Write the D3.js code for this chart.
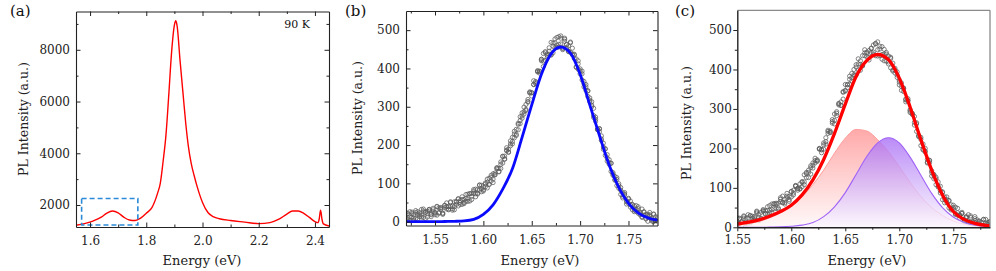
<!DOCTYPE html>
<html>
<head>
<meta charset="utf-8">
<script src="https://cdnjs.cloudflare.com/ajax/libs/d3/7.8.5/d3.min.js"></script>
<style>
body { margin: 0; background: #fff; }
svg, svg text { font-family: "DejaVu Serif", serif; }
.tick text { fill: #222; font-size: 12px; font-family: "DejaVu Serif", serif; }
.tick line, .domain { stroke: #222; }
</style>
</head>
<body>
<svg id="fig" width="996" height="271"></svg>
<script>
// ---- data ----
// (a) full spectrum, 90 K
var energyA = [1.55,1.58,1.61,1.64,1.66,1.68,1.70,1.72,1.74,1.76,1.78,1.80,1.82,1.84,1.85,1.86,1.87,1.88,1.89,1.90,1.905,1.91,1.92,1.93,1.94,1.95,1.96,1.97,1.98,2.00,2.02,2.04,2.06,2.10,2.15,2.20,2.24,2.27,2.30,2.32,2.34,2.36,2.38,2.40,2.41,2.415,2.42,2.425,2.43,2.45];
var plA = [1215,1280,1380,1530,1690,1770,1700,1530,1420,1400,1490,1680,1900,2450,2850,3700,4700,6250,7900,8950,9120,8900,7600,6400,5200,4250,3600,3150,2750,2100,1700,1540,1470,1400,1340,1280,1320,1440,1650,1770,1770,1680,1520,1360,1320,1450,1800,1450,1270,1190];
var boxA = [1.57, 1.77, 1230, 2250]; // dashed zoom window

// (b) measured points (three reads per energy) + single gaussian
var energyB = [1.520,1.522,1.524,1.526,1.528,1.530,1.532,1.534,1.536,1.538,1.540,1.542,1.544,1.546,1.548,1.550,1.552,1.554,1.556,1.558,1.560,1.562,1.564,1.566,1.568,1.570,1.572,1.574,1.576,1.578,1.580,1.582,1.584,1.586,1.588,1.590,1.592,1.594,1.596,1.598,1.600,1.602,1.604,1.606,1.608,1.610,1.612,1.614,1.616,1.618,1.620,1.622,1.624,1.626,1.628,1.630,1.632,1.634,1.636,1.638,1.640,1.642,1.644,1.646,1.648,1.650,1.652,1.654,1.656,1.658,1.660,1.662,1.664,1.666,1.668,1.670,1.672,1.674,1.676,1.678,1.680,1.682,1.684,1.686,1.688,1.690,1.692,1.694,1.696,1.698,1.700,1.702,1.704,1.706,1.708,1.710,1.712,1.714,1.716,1.718,1.720,1.722,1.724,1.726,1.728,1.730,1.732,1.734,1.736,1.738,1.740,1.742,1.744,1.746,1.748,1.750,1.752,1.754,1.756,1.758,1.760,1.762,1.764,1.766,1.768,1.770,1.772,1.774,1.776,1.778,1.780];
var plB = [18,6,26,12,4,24,20,13,32,11,25,21,32,13,31,22,40,22,32,22,42,39,33,50,40,31,52,41,55,65,50,61,53,73,66,84,65,84,82,95,83,98,88,113,106,125,122,138,131,150,171,164,187,182,203,209,236,228,254,256,284,287,290,319,339,336,358,363,393,388,424,419,444,428,445,436,466,454,481,456,479,454,479,454,459,442,453,426,425,398,399,370,366,358,327,323,300,296,262,242,235,224,189,190,166,162,131,128,110,115,87,89,66,70,46,59,44,45,30,42,22,25,11,26,9,16,24,8,0,13,1];
var plB2 = [4,21,12,25,10,29,7,23,17,28,8,27,32,20,26,18,39,24,37,22,37,49,31,40,30,52,45,59,45,58,47,71,59,73,58,74,85,74,96,78,91,91,111,98,116,102,127,140,139,139,170,163,185,189,211,203,229,225,257,264,270,299,293,314,336,337,368,360,391,393,420,405,441,438,437,468,441,467,461,483,464,449,476,463,444,469,436,435,403,420,394,386,352,352,341,313,313,277,267,240,242,212,205,173,175,150,153,121,118,94,99,82,62,72,55,61,38,44,26,33,34,18,33,17,7,19,15,2,19,3,11];
var plB3 = [24,10,3,21,18,8,26,18,12,33,24,12,28,18,35,24,17,36,35,19,43,33,39,52,34,39,52,60,50,45,58,53,72,54,74,80,73,72,95,86,80,101,103,97,121,111,123,141,130,156,153,171,193,181,198,220,219,241,240,274,276,281,306,312,337,328,358,366,394,392,424,439,421,434,454,435,458,477,455,463,485,452,471,462,445,467,438,437,404,412,386,393,360,343,342,317,304,272,273,241,243,216,195,190,158,154,152,124,108,110,94,71,75,76,52,48,54,31,41,27,39,22,13,25,19,1,18,5,20,4,8];
var fitEnergyB = [1.52,1.53,1.54,1.55,1.56,1.57,1.58,1.59,1.60,1.61,1.62,1.63,1.64,1.65,1.66,1.67,1.68,1.69,1.70,1.71,1.72,1.73,1.74,1.75,1.76,1.77,1.78];
var fitB = [0,0,0,0,0.5,1,2,6,19,44,85,138,220,305,385,438,456,440,385,305,225,148,89,48,23,10,4];

// (c) measured points (three reads per energy) + two gaussians and their sum
var energyC = [1.550,1.552,1.554,1.556,1.558,1.560,1.562,1.564,1.566,1.568,1.570,1.572,1.574,1.576,1.578,1.580,1.582,1.584,1.586,1.588,1.590,1.592,1.594,1.596,1.598,1.600,1.602,1.604,1.606,1.608,1.610,1.612,1.614,1.616,1.618,1.620,1.622,1.624,1.626,1.628,1.630,1.632,1.634,1.636,1.638,1.640,1.642,1.644,1.646,1.648,1.650,1.652,1.654,1.656,1.658,1.660,1.662,1.664,1.666,1.668,1.670,1.672,1.674,1.676,1.678,1.680,1.682,1.684,1.686,1.688,1.690,1.692,1.694,1.696,1.698,1.700,1.702,1.704,1.706,1.708,1.710,1.712,1.714,1.716,1.718,1.720,1.722,1.724,1.726,1.728,1.730,1.732,1.734,1.736,1.738,1.740,1.742,1.744,1.746,1.748,1.750,1.752,1.754,1.756,1.758,1.760,1.762,1.764,1.766,1.768,1.770,1.772,1.774,1.776,1.778,1.780,1.782,1.784];
var plC = [7,23,14,29,9,24,29,16,27,39,25,21,42,42,33,55,45,60,48,61,75,62,59,79,78,91,82,106,98,98,116,108,136,139,156,150,169,167,198,196,214,211,243,244,264,287,283,310,309,344,347,361,362,390,384,406,427,413,410,442,444,424,454,439,466,450,459,426,439,443,419,404,416,398,380,373,347,353,323,321,298,288,259,265,231,223,196,200,172,164,130,132,127,102,87,90,71,77,49,57,45,34,48,30,35,15,26,15,29,8,17,19,11,1,20,6,12,14];
var plC2 = [4,21,13,27,13,32,11,28,24,36,17,38,45,35,43,37,59,47,61,49,65,79,63,74,66,90,87,104,94,110,103,133,126,145,135,157,175,171,200,189,209,217,246,241,268,262,293,313,318,325,362,354,375,379,400,386,414,398,435,435,432,448,443,462,435,470,435,458,422,439,414,428,399,403,386,361,366,344,325,326,291,289,266,262,230,207,211,191,165,169,139,134,108,115,93,88,62,70,67,47,56,33,37,23,38,20,27,9,25,14,27,7,15,4,20,10,0,15];
var plC3 = [24,10,4,23,21,11,30,23,19,41,33,23,41,33,52,43,37,59,59,46,71,63,71,86,70,77,94,105,99,97,114,115,139,126,151,163,163,169,199,197,198,227,238,240,273,271,289,314,309,342,345,362,383,371,387,412,399,422,409,450,442,431,453,444,465,434,452,438,451,421,434,431,396,391,394,368,357,352,318,321,295,286,281,243,233,228,198,193,163,170,143,123,123,104,104,70,77,63,68,44,50,51,31,31,35,14,24,32,12,13,22,2,16,13,4,20,8,14];
var fitEnergyC = [1.55,1.56,1.57,1.58,1.59,1.60,1.61,1.62,1.63,1.64,1.65,1.66,1.67,1.68,1.69,1.70,1.71,1.72,1.73,1.74,1.75,1.76,1.77,1.78,1.785];
var fitSumC = [8,13,19,28,40,56,82,120,172,238,312,382,423,438,425,378,305,222,145,82,40,20,10,5,4];
var peakLowC = [6,9,15,24,37,54,78,108,145,188,226,248,244,222,192,154,114,78,50,30,16,8,4,2,1];
var peakHighC = [0,0,0,0.5,1,2.5,5.5,12,27,52,88,134,180,214,227,214,178,132,86,50,26,12,5,2,1];

// tick values
var xTicksA = [1.6,1.8,2.0,2.2,2.4], xMinorA = [1.7,1.9,2.1,2.3];
var yTicksA = [2000,4000,6000,8000], yMinorA = [3000,5000,7000,9000];
var xTicksBC = [1.55,1.60,1.65,1.70,1.75], xMinorBC = [1.525,1.575,1.625,1.675,1.725,1.775];
var yTicksBC = [0,100,200,300,400,500], yMinorBC = [50,150,250,350,450];

var svg = d3.select("#fig");
var defs = svg.append("defs");

// scales
var xA = d3.scaleLinear().domain([1.55, 2.45]).range([76, 329]);
var yA = d3.scaleLinear().domain([1150, 9480]).range([227, 11.5]);
var xB = d3.scaleLinear().domain([1.52, 1.78]).range([406, 657.5]);
var yB = d3.scaleLinear().domain([-10, 550]).range([225.5, 11]);
var xC = d3.scaleLinear().domain([1.55, 1.784]).range([737.3, 990]);
var yC = d3.scaleLinear().domain([0, 550]).range([227.3, 10.3]);

function clip(id, x, y) {
  defs.append("clipPath").attr("id", id).append("rect")
    .attr("x", x.range()[0]).attr("y", y.range()[1])
    .attr("width", x.range()[1] - x.range()[0])
    .attr("height", y.range()[0] - y.range()[1]);
}
clip("clipA", xA, yA);
clip("clipB", xB, yB);
clip("clipC", xC, yC);

// flatten the point reads into one list per panel
function points(en, lists) {
  var out = [];
  lists.forEach(function(l){ l.forEach(function(v, i){ out.push({e: en[i], v: v}); }); });
  return out;
}

// inward ticks on all four sides (Origin style)
function boxAxes(x, y, xt, xm, yt, ym, xf, yf) {
  var g = svg.append("g");
  var x0 = x.range()[0], x1 = x.range()[1], y0 = y.range()[0], y1 = y.range()[1];
  g.append("g").attr("transform", "translate(0," + y0 + ")")
    .call(d3.axisBottom(x).tickValues(xt).tickFormat(xf).tickSize(-4.5).tickSizeOuter(0).tickPadding(9.5));
  g.append("g").attr("transform", "translate(0," + y1 + ")")
    .call(d3.axisTop(x).tickValues(xt).tickFormat("").tickSize(-4.5).tickSizeOuter(0));
  g.append("g").attr("transform", "translate(" + x0 + ",0)")
    .call(d3.axisLeft(y).tickValues(yt).tickFormat(yf).tickSize(-4.5).tickSizeOuter(0).tickPadding(6));
  g.append("g").attr("transform", "translate(" + x1 + ",0)")
    .call(d3.axisRight(y).tickValues(yt).tickFormat("").tickSize(-4.5).tickSizeOuter(0));
  // minor ticks
  g.append("g").attr("transform", "translate(0," + y0 + ")")
    .call(d3.axisBottom(x).tickValues(xm).tickFormat("").tickSize(-2.5)).select(".domain").remove();
  g.append("g").attr("transform", "translate(0," + y1 + ")")
    .call(d3.axisTop(x).tickValues(xm).tickFormat("").tickSize(-2.5)).select(".domain").remove();
  g.append("g").attr("transform", "translate(" + x0 + ",0)")
    .call(d3.axisLeft(y).tickValues(ym).tickFormat("").tickSize(-2.5)).select(".domain").remove();
  g.append("g").attr("transform", "translate(" + x1 + ",0)")
    .call(d3.axisRight(y).tickValues(ym).tickFormat("").tickSize(-2.5)).select(".domain").remove();
  g.selectAll(".domain").attr("stroke-width", 1.1);
  g.selectAll("g").attr("font-family", null);
}

function titles(cx, cy, px, ex, label) {
  svg.append("text").text("PL Intensity (a.u.)")
    .attr("transform", "translate(" + px + "," + cy + ") rotate(-90)")
    .attr("text-anchor", "middle").attr("dy", "0.35em")
    .style("font-size", "12.5px").attr("fill", "#222");
  svg.append("text").text("Energy (eV)")
    .attr("x", ex).attr("y", 265)
    .attr("text-anchor", "middle")
    .style("font-size", "13px").attr("fill", "#222");
  svg.append("text").text(label)
    .attr("x", cx).attr("y", 16)
    .style("font-size", "15px").attr("fill", "#111");
}

function scatter(pts, x, y, clipId) {
  svg.append("g").attr("clip-path", "url(#" + clipId + ")")
    .selectAll("circle").data(pts).enter().append("circle")
    .attr("cx", function(d){ return x(d.e); })
    .attr("cy", function(d){ return y(d.v); })
    .attr("r", 2.1)
    .attr("fill", "none")
    .attr("stroke", "#5c5c5c")
    .attr("stroke-width", 0.75);
}

// ---- PANEL (a) ----
var lineA = d3.line().x(function(d, i){ return xA(energyA[i]); }).y(function(d){ return yA(d); }).curve(d3.curveMonotoneX);
svg.append("path").datum(plA)
  .attr("d", lineA)
  .attr("clip-path", "url(#clipA)")
  .attr("fill", "none")
  .attr("stroke", "#ff0000")
  .attr("stroke-width", 1.4);

svg.append("rect")
  .attr("x", xA(boxA[0])).attr("y", yA(boxA[3]))
  .attr("width", xA(boxA[1]) - xA(boxA[0]))
  .attr("height", yA(boxA[2]) - yA(boxA[3]))
  .attr("fill", "none")
  .attr("stroke", "#2b8ad6")
  .attr("stroke-width", 1.6)
  .attr("stroke-dasharray", "5,3");

svg.append("text").text("90 K")
  .attr("x", 310).attr("y", 28)
  .attr("text-anchor", "end")
  .style("font-size", "11px").attr("fill", "#111");

boxAxes(xA, yA, xTicksA, xMinorA, yTicksA, yMinorA, d3.format(".1f"), d3.format("d"));
titles(10, 119, 24, 202, "(a)");

// ---- PANEL (b) ----
scatter(points(energyB, [plB, plB2, plB3]), xB, yB, "clipB");

var lineB = d3.line().x(function(d, i){ return xB(fitEnergyB[i]); }).y(function(d){ return yB(d); }).curve(d3.curveMonotoneX);
svg.append("path").datum(fitB)
  .attr("d", lineB)
  .attr("fill", "none")
  .attr("stroke", "#0a0aff")
  .attr("stroke-width", 2.8);

boxAxes(xB, yB, xTicksBC, xMinorBC, yTicksBC, yMinorBC, d3.format(".2f"), d3.format("d"));
titles(345, 118, 357.5, 540, "(b)");

// ---- PANEL (c) ----
scatter(points(energyC, [plC, plC2, plC3]), xC, yC, "clipC");

function grad(id, top, bottom) {
  var lg = defs.append("linearGradient").attr("id", id)
    .attr("x1", 0).attr("y1", 0).attr("x2", 0).attr("y2", 1);
  lg.append("stop").attr("offset", "0%").attr("stop-color", top).attr("stop-opacity", 0.8);
  lg.append("stop").attr("offset", "100%").attr("stop-color", bottom).attr("stop-opacity", 0.75);
}
grad("pinkFill", "#ff9494", "#fff6f6");
grad("violetFill", "#a96ef5", "#fbf7ff");

var areaC = d3.area().x(function(d, i){ return xC(fitEnergyC[i]); }).y0(yC(0)).y1(function(d){ return yC(d); }).curve(d3.curveMonotoneX);
var lineC = d3.line().x(function(d, i){ return xC(fitEnergyC[i]); }).y(function(d){ return yC(d); }).curve(d3.curveMonotoneX);

var gc = svg.append("g").attr("clip-path", "url(#clipC)");
gc.append("path").datum(peakLowC).attr("d", areaC).attr("fill", "url(#pinkFill)");
gc.append("path").datum(peakLowC).attr("d", lineC).attr("fill", "none").attr("stroke", "#ff9c9c").attr("stroke-width", 1);
gc.append("path").datum(peakHighC).attr("d", areaC).attr("fill", "url(#violetFill)");
gc.append("path").datum(peakHighC).attr("d", lineC).attr("fill", "none").attr("stroke", "#a063f5").attr("stroke-width", 1.1);
gc.append("path").datum(fitSumC).attr("d", lineC).attr("fill", "none").attr("stroke", "#ff0000").attr("stroke-width", 3.3);

// (c) has outward ticks on left/bottom and a plain grey top/right border
var gC = svg.append("g");
gC.append("line").attr("x1", xC.range()[0]).attr("x2", xC.range()[1]).attr("y1", yC.range()[1]).attr("y2", yC.range()[1])
  .attr("stroke", "#8a8a8a").attr("stroke-width", 1.3);
gC.append("line").attr("x1", xC.range()[1]).attr("x2", xC.range()[1]).attr("y1", yC.range()[1]).attr("y2", yC.range()[0])
  .attr("stroke", "#8a8a8a").attr("stroke-width", 1.3);
gC.append("g").attr("transform", "translate(0," + yC.range()[0] + ")")
  .call(d3.axisBottom(xC).tickValues(xTicksBC).tickFormat(d3.format(".2f")).tickSize(4).tickSizeOuter(0).tickPadding(4.5));
gC.append("g").attr("transform", "translate(0," + yC.range()[0] + ")")
  .call(d3.axisBottom(xC).tickValues(xMinorBC.slice(1)).tickFormat("").tickSize(2.5)).select(".domain").remove();
gC.append("g").attr("transform", "translate(" + xC.range()[0] + ",0)")
  .call(d3.axisLeft(yC).tickValues(yTicksBC).tickFormat(d3.format("d")).tickSize(4).tickSizeOuter(0).tickPadding(1.5));
gC.append("g").attr("transform", "translate(" + xC.range()[0] + ",0)")
  .call(d3.axisLeft(yC).tickValues(yMinorBC).tickFormat("").tickSize(2.5)).select(".domain").remove();
gC.selectAll(".domain").attr("stroke", "#000").attr("stroke-width", 1.4);
gC.selectAll("g").attr("font-family", null);
titles(675, 123, 687, 867, "(c)");
</script>
</body>
</html>
